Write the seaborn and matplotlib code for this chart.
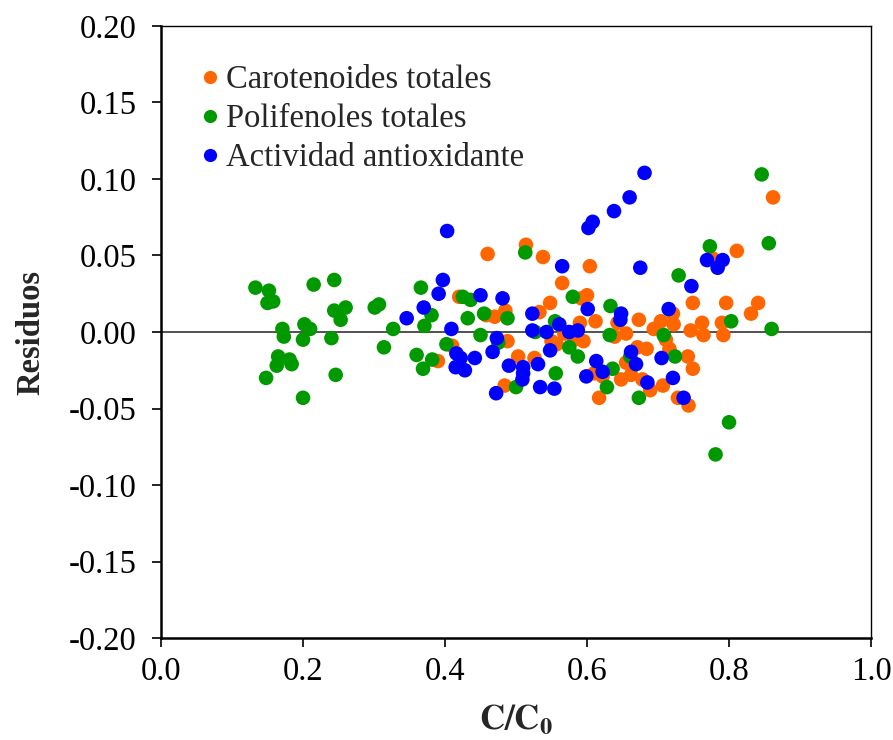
import matplotlib
matplotlib.use('Agg')
import matplotlib.pyplot as plt
import seaborn as sns
import pandas as pd

# Carotenoides totales
car_x = [0.420, 0.460, 0.458, 0.470, 0.485, 0.514, 0.538, 0.565, 0.548, 0.533,
         0.488, 0.410, 0.390, 0.503, 0.484, 0.526, 0.550, 0.557, 0.862, 0.811,
         0.777, 0.604, 0.600, 0.592, 0.612, 0.590, 0.643, 0.655, 0.639, 0.673,
         0.694, 0.704, 0.721, 0.722, 0.749, 0.796, 0.762, 0.746, 0.764, 0.790,
         0.792, 0.831, 0.841, 0.711, 0.716, 0.671, 0.684, 0.742, 0.749, 0.655,
         0.648, 0.662, 0.678, 0.689, 0.707, 0.728, 0.743, 0.617, 0.595, 0.582,
         0.610, 0.622, 0.568]
car_y = [0.023, 0.051, 0.011, 0.010, 0.014, 0.057, 0.049, 0.032, 0.019, 0.013,
         -0.006, -0.009, -0.019, -0.016, -0.035, -0.017, -0.006, -0.008, 0.088, 0.053,
         0.048, 0.043, 0.024, 0.022, 0.007, 0.006, 0.006, -0.001, -0.003, 0.008,
         0.002, 0.007, 0.012, 0.005, 0.019, 0.019, 0.006, 0.001, -0.002, 0.006,
         -0.002, 0.012, 0.019, -0.005, -0.011, -0.010, -0.011, -0.016, -0.024, -0.020,
         -0.031, -0.028, -0.031, -0.038, -0.035, -0.043, -0.048, -0.043, -0.006, -0.005,
         -0.027, -0.029, -0.001]

# Polifenoles totales
pol_x = [0.133, 0.152, 0.150, 0.158, 0.171, 0.173, 0.165, 0.163, 0.181, 0.184,
         0.148, 0.200, 0.202, 0.210, 0.200, 0.215, 0.244, 0.244, 0.253, 0.260,
         0.240, 0.246, 0.301, 0.307, 0.327, 0.314, 0.366, 0.381, 0.371, 0.360,
         0.382, 0.369, 0.402, 0.425, 0.436, 0.432, 0.455, 0.450, 0.488, 0.475,
         0.513, 0.500, 0.556, 0.555, 0.580, 0.527, 0.846, 0.856, 0.773, 0.729,
         0.803, 0.860, 0.708, 0.724, 0.673, 0.800, 0.781, 0.633, 0.632, 0.575,
         0.587, 0.636, 0.628, 0.661]
pol_y = [0.029, 0.027, 0.019, 0.020, 0.002, -0.003, -0.016, -0.022, -0.018, -0.021,
         -0.030, -0.005, 0.005, 0.002, -0.043, 0.031, 0.034, 0.014, 0.008, 0.016,
         -0.004, -0.028, 0.016, 0.018, 0.002, -0.010, 0.029, 0.011, 0.004, -0.015,
         -0.018, -0.024, -0.008, 0.023, 0.021, 0.009, 0.012, -0.002, 0.009, -0.007,
         0.052, -0.036, -0.027, 0.007, 0.023, 0.000, 0.103, 0.058, 0.056, 0.037,
         0.007, 0.002, -0.002, -0.016, -0.043, -0.059, -0.080, 0.017, -0.002, -0.010,
         -0.016, -0.024, -0.036, -0.016]

# Actividad antioxidante
act_x = [0.403, 0.397, 0.391, 0.370, 0.346, 0.409, 0.416, 0.422, 0.415, 0.428,
         0.442, 0.450, 0.481, 0.473, 0.467, 0.490, 0.472, 0.510, 0.510, 0.509,
         0.523, 0.523, 0.531, 0.534, 0.554, 0.543, 0.548, 0.561, 0.575, 0.565,
         0.681, 0.660, 0.638, 0.608, 0.602, 0.675, 0.747, 0.769, 0.791, 0.784,
         0.715, 0.601, 0.648, 0.647, 0.587, 0.662, 0.669, 0.613, 0.622, 0.599,
         0.685, 0.705, 0.721, 0.736]
act_y = [0.066, 0.034, 0.025, 0.016, 0.009, 0.002, -0.014, -0.017, -0.023, -0.025,
         -0.017, 0.024, 0.022, -0.004, -0.013, -0.022, -0.040, -0.023, -0.027, -0.031,
         0.012, 0.001, -0.021, -0.036, -0.037, 0.000, -0.012, 0.005, 0.000, 0.043,
         0.104, 0.088, 0.079, 0.072, 0.068, 0.042, 0.030, 0.047, 0.047, 0.042,
         0.015, 0.015, 0.012, 0.008, 0.001, -0.013, -0.021, -0.019, -0.026, -0.029,
         -0.033, -0.017, -0.030, -0.043]

series = ['Carotenoides totales', 'Polifenoles totales', 'Actividad antioxidante']
colors = ['#FF6600', '#009900', '#0000FF']

df = pd.concat([
    pd.DataFrame({'x': car_x, 'y': car_y, 'serie': series[0]}),
    pd.DataFrame({'x': pol_x, 'y': pol_y, 'serie': series[1]}),
    pd.DataFrame({'x': act_x, 'y': act_y, 'serie': series[2]}),
], ignore_index=True)

sns.set_style('ticks')
plt.rcParams['font.family'] = ['Liberation Serif', 'DejaVu Serif']
plt.rcParams['mathtext.fontset'] = 'stix'

fig = plt.figure(figsize=(8.93, 7.40), dpi=100)
ax = fig.add_axes([0.1803, 0.1378, 0.7951, 0.8271])

sns.scatterplot(data=df, x='x', y='y', hue='serie', hue_order=series,
                palette=colors, s=110, linewidth=0, ax=ax, zorder=3)

ax.axhline(0, color='#333333', linewidth=1.2, zorder=2)

ax.set_xlim(0, 1.0)
ax.set_ylim(-0.20, 0.20)
ax.set_xticks([0.0, 0.2, 0.4, 0.6, 0.8, 1.0])
ax.set_yticks([-0.20, -0.15, -0.10, -0.05, 0.00, 0.05, 0.10, 0.15, 0.20])
ax.xaxis.set_major_formatter(matplotlib.ticker.FormatStrFormatter('%.1f'))
ax.yaxis.set_major_formatter(matplotlib.ticker.FormatStrFormatter('%.2f'))
ax.tick_params(axis='both', direction='out', length=6.5, width=1.2,
               labelsize=23.5, colors='black')
ax.tick_params(axis='y', pad=11)
ax.tick_params(axis='x', pad=7)

for side in ['left', 'bottom']:
    ax.spines[side].set_linewidth(1.8)
for side in ['top', 'right']:
    ax.spines[side].set_linewidth(1.0)
for sp in ax.spines.values():
    sp.set_color('black')

ax.set_xlabel(r'$\mathbf{C/C_0}$', fontsize=25, labelpad=12)
ax.set_ylabel('Residuos', fontsize=23.5, fontweight='bold', labelpad=16)

handles, labels = ax.get_legend_handles_labels()
for h in handles:
    h.set_markersize(9.5)
ax.legend(handles, labels, loc='upper left', bbox_to_anchor=(0.055, 0.937),
          frameon=False, fontsize=23.5, borderpad=0, borderaxespad=0,
          handlelength=0.6, handletextpad=0.2, labelspacing=0.26)

plt.savefig('out.png', dpi=100)
plt.close()
